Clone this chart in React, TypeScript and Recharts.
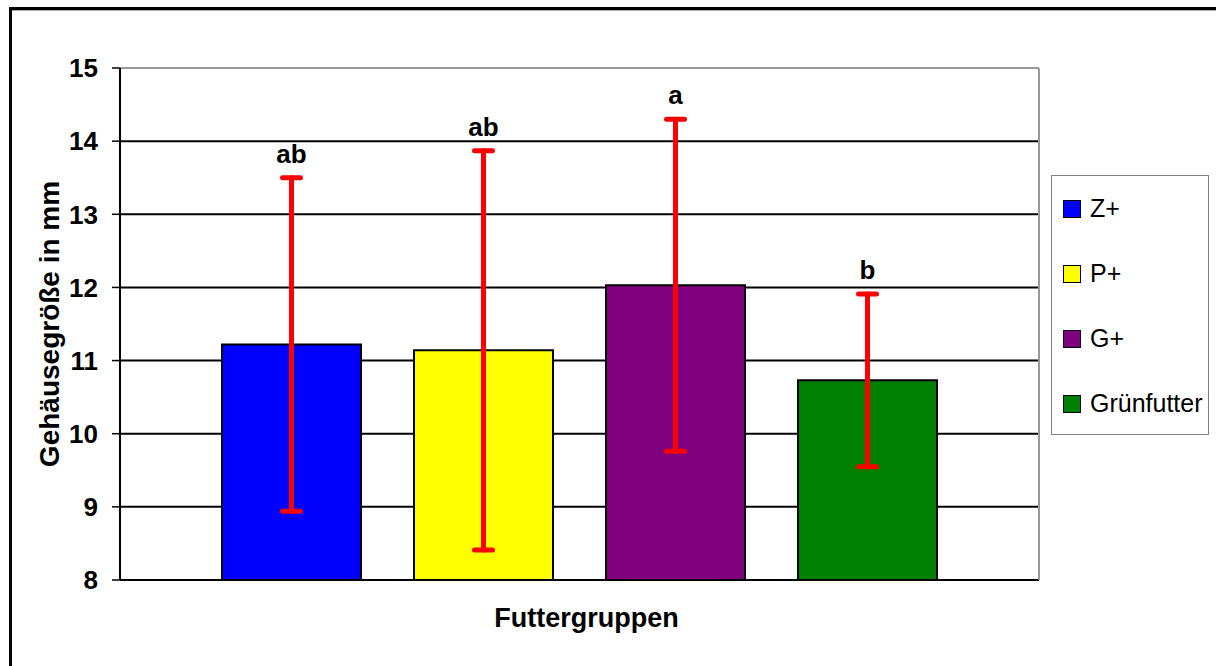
import React from 'react';
import { BarChart, Bar, XAxis, YAxis, CartesianGrid, ErrorBar, ReferenceLine } from 'recharts';

const seriesNames = ['Z+', 'P+', 'G+', 'Grünfutter'];
const means = [11.22, 11.14, 12.03, 10.73];
const errors = [2.28, 2.73, 2.27, 1.18];
const letters = ['ab', 'ab', 'a', 'b'];
const colors = ['#0000ff', '#ffff00', '#800080', '#008000'];
const yTicks = [8, 9, 10, 11, 12, 13, 14, 15];
const yDomain: [number, number] = [8, 15];

const FONT = "'Liberation Sans', Arial, sans-serif";

// one category, four series (Excel-style grouping)
const row: Record<string, number | string> = { name: '' };
seriesNames.forEach((_, i) => {
  row[`s${i}`] = means[i];
  row[`e${i}`] = errors[i];
});
const data = [row];

const letterLabel = (i: number) => (props: any) => {
  const { x, y, width, height, value } = props;
  const pxPerUnit = height / (value - yDomain[0]);
  const top = y - errors[i] * pxPerUnit;
  return (
    <text
      x={x + width / 2}
      y={top - 15}
      textAnchor="middle"
      fontFamily={FONT}
      fontWeight="bold"
      fontSize={26}
      fill="#000"
    >
      {letters[i]}
    </text>
  );
};

const App: React.FC = () => {
  return (
    <div style={{ position: 'absolute', left: 0, top: 0, width: 1216, height: 666, background: '#fff', overflow: 'hidden', fontFamily: FONT }}>
      <div style={{ position: 'absolute', left: 9, top: 7, width: 1220, height: 680, borderTop: '3px solid #000', borderLeft: '3px solid #000' }} />
      <div style={{ position: 'absolute', left: 12, top: 10, width: 1210, height: 1, background: '#aaa' }} />
      <div style={{ position: 'absolute', left: 0, top: 0 }}>
        <BarChart
          width={1216}
          height={666}
          data={data}
          margin={{ top: 68, right: 176, bottom: 26, left: 0 }}
          barSize={139}
          barGap={53}
        >
          <CartesianGrid vertical={false} stroke="#000" strokeWidth={2} strokeOpacity={1} />
          <XAxis dataKey="name" hide height={0} />
          <XAxis
            xAxisId="edges"
            type="number"
            domain={[0, 1]}
            ticks={[0, 1]}
            tick={false}
            tickSize={9}
            tickLine={{ stroke: '#000', strokeWidth: 1.5 }}
            axisLine={{ stroke: '#000', strokeWidth: 2 }}
            height={60}
            label={{ value: 'Futtergruppen', position: 'insideBottom', offset: 13, dx: 7, fill: '#000', fontSize: 27, fontWeight: 'bold', fontFamily: FONT }}
          />
          <YAxis
            domain={yDomain}
            ticks={yTicks}
            interval={0}
            width={120}
            tickSize={8}
            tickMargin={14}
            tickLine={{ stroke: '#000', strokeWidth: 1.5 }}
            axisLine={{ stroke: '#000', strokeWidth: 2 }}
            tick={{ fill: '#000', fontSize: 26, fontWeight: 'bold', fontFamily: FONT }}
            label={{ value: 'Gehäusegröße in mm', angle: -90, position: 'insideLeft', offset: 49, style: { textAnchor: 'middle' }, fill: '#000', fontSize: 28, fontWeight: 'bold', fontFamily: FONT }}
          />
          <YAxis
            yAxisId="right"
            orientation="right"
            domain={yDomain}
            width={1}
            tick={false}
            tickLine={false}
            axisLine={{ stroke: '#999', strokeWidth: 2 }}
          />
          <ReferenceLine y={15} stroke="#999" strokeWidth={2} />
          {seriesNames.map((name, i) => (
            <Bar
              key={name}
              dataKey={`s${i}`}
              name={name}
              fill={colors[i]}
              stroke="#000"
              strokeWidth={2}
              isAnimationActive={false}
              label={letterLabel(i)}
            >
              <ErrorBar dataKey={`e${i}`} width={9} stroke="#ff0000" strokeWidth={5} strokeLinecap="round" direction="y" />
            </Bar>
          ))}
        </BarChart>
      </div>
      <div
        style={{
          position: 'absolute',
          left: 1051,
          top: 175,
          width: 158,
          height: 260,
          border: '1px solid #808080',
          boxSizing: 'border-box',
        }}
      >
        {seriesNames.map((name, i) => (
          <div key={name} style={{ height: 65, display: 'flex', alignItems: 'center', paddingLeft: 11 }}>
            <span style={{ width: 16, height: 16, background: colors[i], border: '1.5px solid #000', display: 'inline-block', marginRight: 9 }} />
            <span style={{ fontSize: 25, color: '#000' }}>{name}</span>
          </div>
        ))}
      </div>
    </div>
  );
};

export default App;
